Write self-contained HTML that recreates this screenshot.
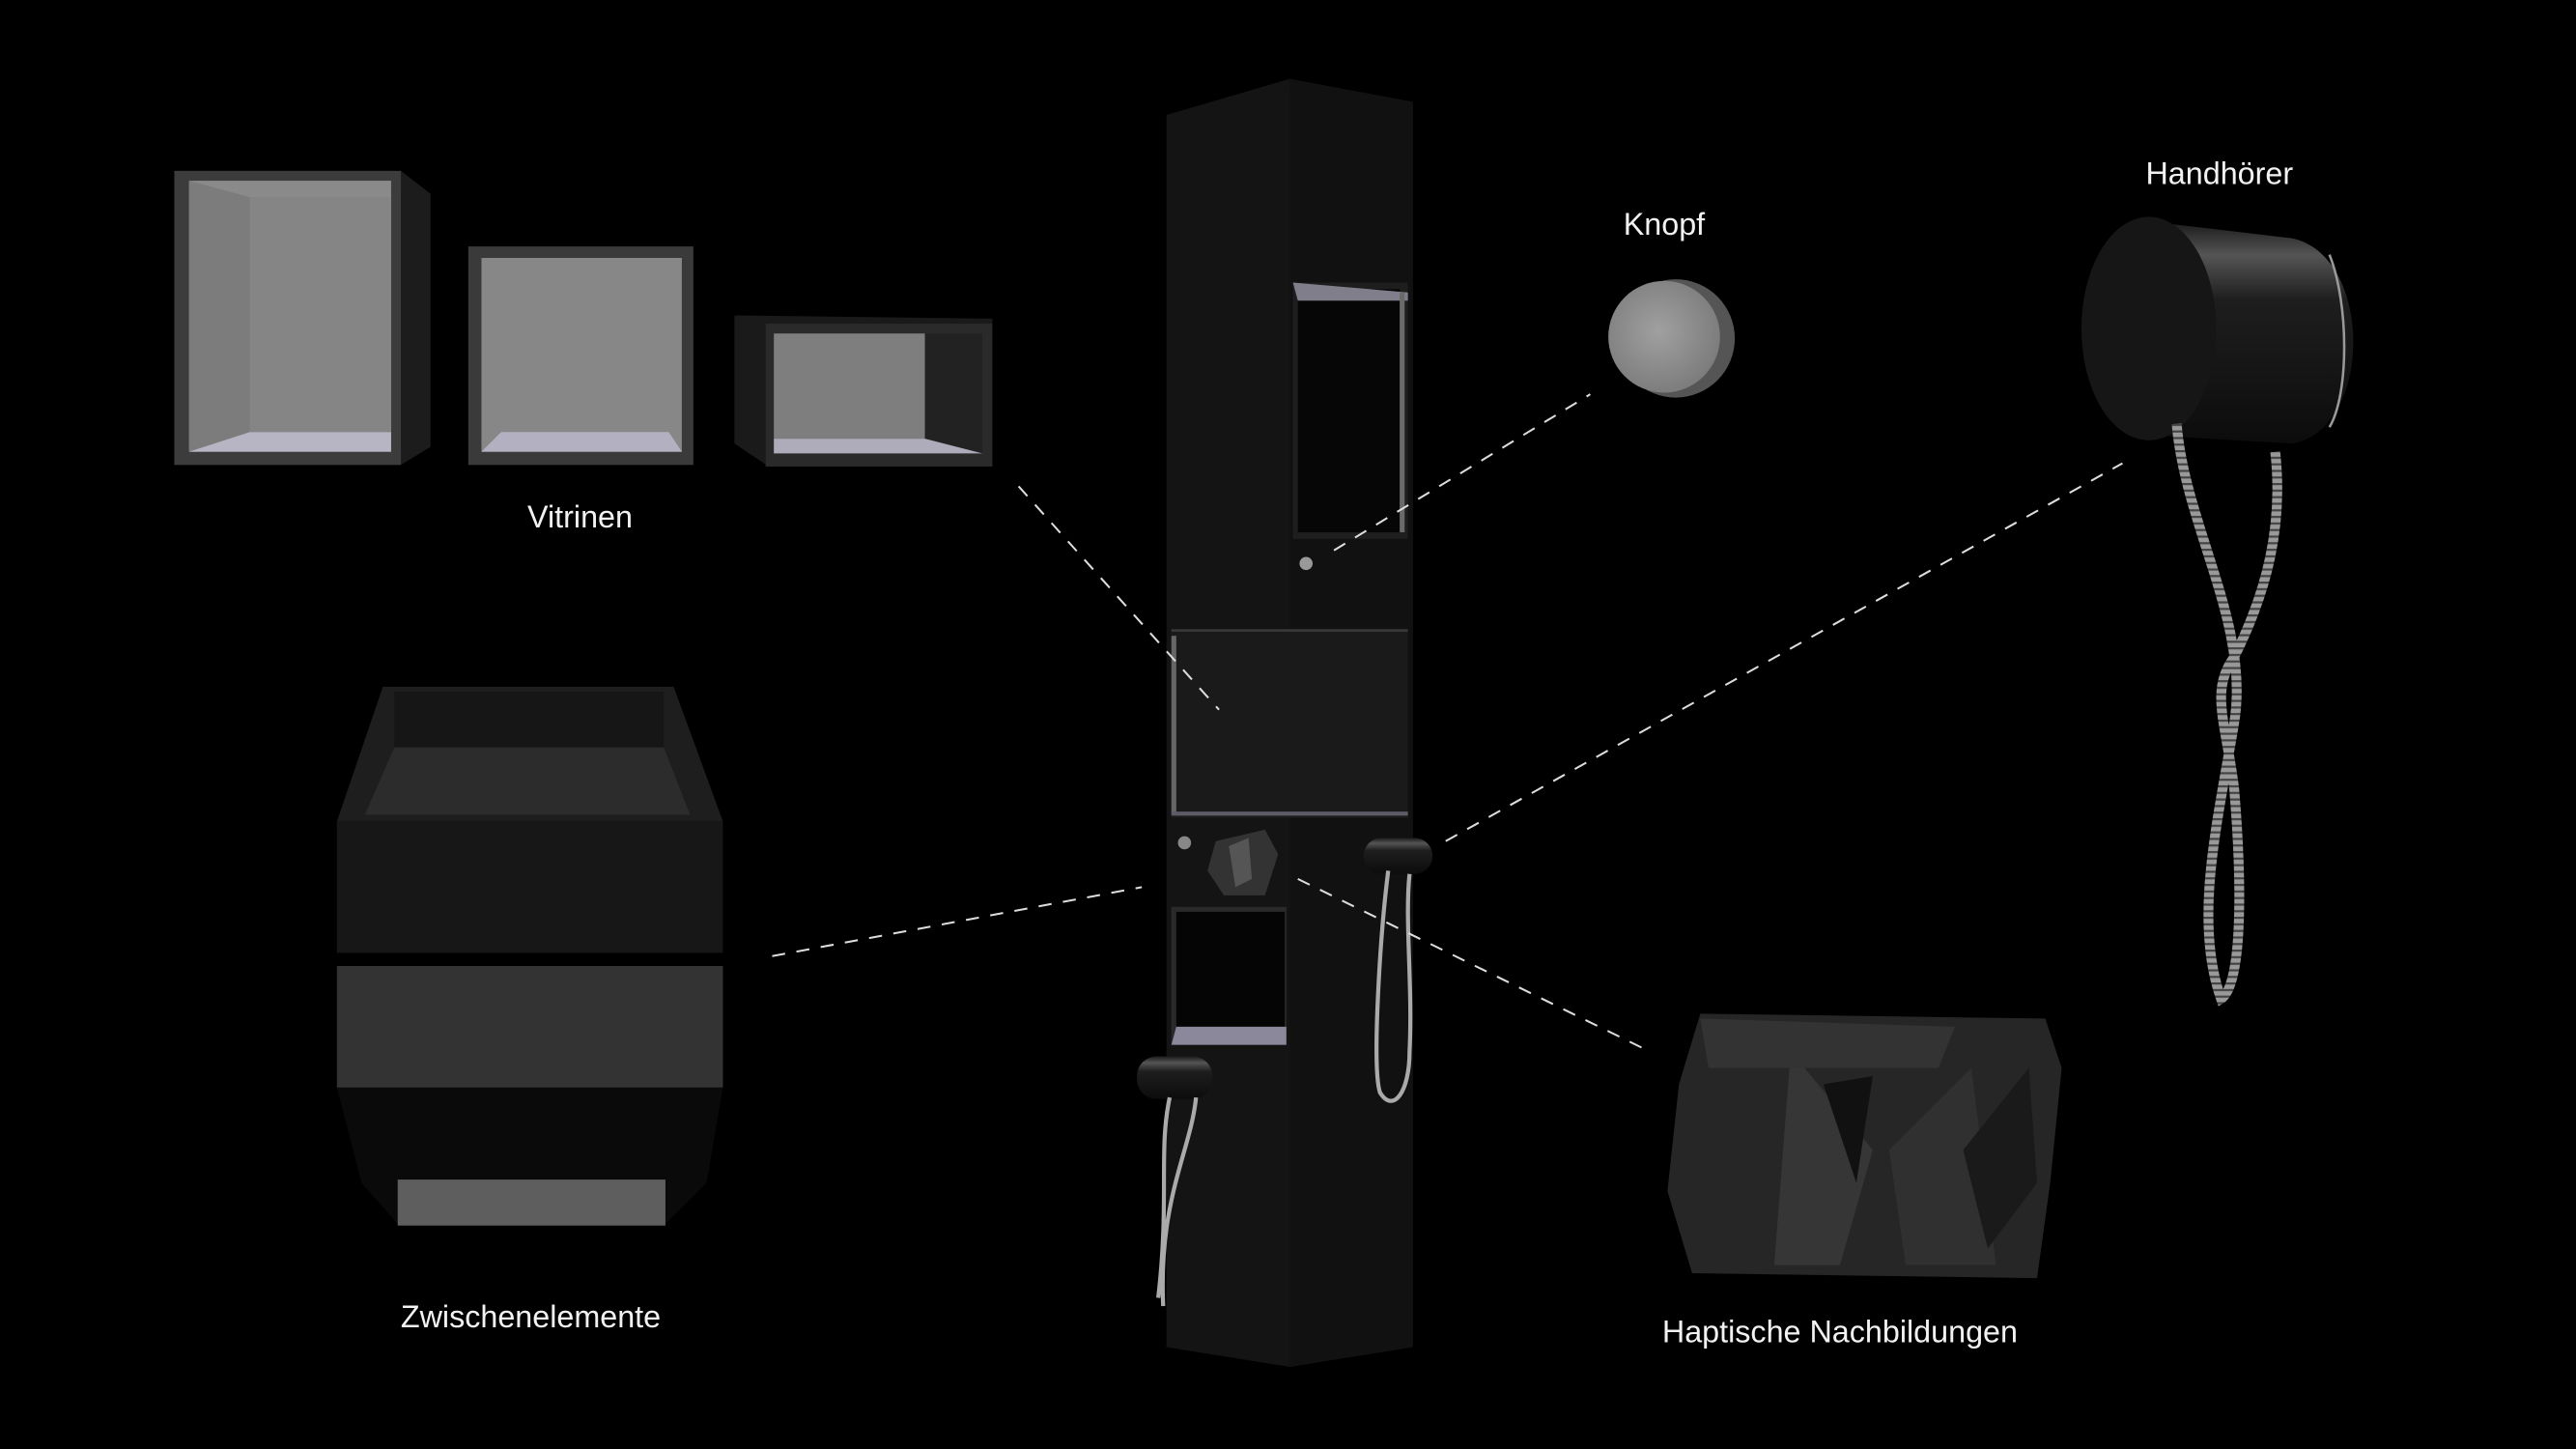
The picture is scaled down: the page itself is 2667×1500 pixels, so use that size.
<!DOCTYPE html>
<html><head><meta charset="utf-8"><style>
html,body{margin:0;padding:0;background:#000;}
svg{display:block;}
text{font-family:"Liberation Sans",sans-serif;fill:#f2f2f2;font-size:19px;text-anchor:middle;}
</style></head><body>
<svg width="2667" height="1500" viewBox="0 0 1568 882" xmlns="http://www.w3.org/2000/svg">
<defs>
<linearGradient id="cyl" x1="0" y1="0" x2="0" y2="1">
<stop offset="0" stop-color="#1a1a1a"/><stop offset="0.15" stop-color="#555"/><stop offset="0.35" stop-color="#1e1e1e"/><stop offset="1" stop-color="#0c0c0c"/>
</linearGradient>
<radialGradient id="knob" cx="0.45" cy="0.45" r="0.6">
<stop offset="0" stop-color="#a0a0a0"/><stop offset="1" stop-color="#7a7a7a"/>
</radialGradient>
<pattern id="spr" width="4" height="4" patternUnits="userSpaceOnUse"><rect width="4" height="4" fill="#999"/><rect y="2" width="4" height="1.3" fill="#444"/></pattern>
</defs>
<rect width="1568" height="882" fill="#000"/>

<!-- Vitrine 1 -->
<polygon points="244,104 262,118 262,272 244,283" fill="#1c1c1c"/>
<rect x="106" y="104" width="138" height="179" fill="#3c3c3c"/>
<rect x="115" y="110" width="123" height="165" fill="#8a8a8a"/>
<polygon points="115,110 152,120 152,263 115,275" fill="#7c7c7c"/>
<polygon points="115,275 152,263 238,263 238,275" fill="#b7b4c4"/>
<rect x="152" y="120" width="86" height="143" fill="#858585"/>
<!-- Vitrine 2 -->
<rect x="285" y="150" width="137" height="133" fill="#3a3a3a"/>
<rect x="293" y="157" width="122" height="118" fill="#878787"/>
<polygon points="293,275 305,263 407,263 415,275" fill="#b3b1c1"/>
<!-- Vitrine 3 -->
<polygon points="447,192 604,194 604,284 468,284 447,270" fill="#1a1a1a"/>
<rect x="466" y="197" width="138" height="87" fill="#2a2a2a"/>
<rect x="471" y="203" width="92" height="64" fill="#7e7e7e"/>
<polygon points="563,203 598,203 598,276 563,267" fill="#222"/>
<polygon points="471,267 563,267 598,276 471,276" fill="#aeacbb"/>
<text x="353" y="321">Vitrinen</text>

<!-- Zwischenelemente -->
<polygon points="233,418 410,418 440,500 205,500" fill="#1e1e1e"/>
<polygon points="240,421 404,421 404,455 240,455" fill="#161616"/>
<polygon points="240,455 404,455 420,496 222,496" fill="#2c2c2c"/>
<rect x="205" y="500" width="235" height="80" fill="#171717"/>
<rect x="205" y="588" width="235" height="74" fill="#333"/>
<polygon points="205,662 440,662 430,720 405,745 242,745 220,720" fill="#0a0a0a"/>
<rect x="242" y="718" width="163" height="28" fill="#5e5e5e"/>
<text x="323" y="808">Zwischenelemente</text>

<!-- Column -->
<polygon points="710,70 785,48 860,62 860,820 785,832 710,820" fill="#141414"/>
<polygon points="785,48 860,62 860,820 785,832" fill="#111"/>
<!-- upper vitrine -->
<rect x="787" y="172" width="70" height="156" fill="#1e1e1e"/>
<rect x="790" y="176" width="62" height="148" fill="#060606"/>
<polygon points="787,172 857,178 857,183 790,183" fill="#807e8a"/>
<rect x="852" y="178" width="3" height="146" fill="#6a6a6a"/>
<circle cx="795" cy="343" r="4" fill="#999"/>
<!-- middle section -->
<rect x="713" y="383" width="144" height="115" fill="#1a1a1a"/>
<rect x="713" y="383" width="144" height="1.5" fill="#3a3a3a"/>
<rect x="713" y="387" width="3" height="108" fill="#666"/>
<rect x="713" y="494" width="144" height="2.5" fill="#5c5b66"/>
<!-- small button + relief -->
<circle cx="721" cy="513" r="4" fill="#888"/>
<polygon points="740,512 770,505 778,520 770,545 745,545 735,530" fill="#333"/>
<polygon points="748,515 760,510 762,535 752,540" fill="#555"/>
<!-- lower vitrine -->
<rect x="713" y="552" width="70" height="84" fill="#2a2a2a"/>
<rect x="716" y="555" width="66" height="70" fill="#050505"/>
<polygon points="716,625 783,625 783,636 713,636" fill="#8a889a"/>
<!-- handset right -->
<rect x="830" y="510" width="42" height="22" rx="11" fill="url(#cyl)"/>
<path d="M845,530 C840,570 835,650 840,665 C848,678 858,665 858,640 C860,600 855,560 858,532" fill="none" stroke="#aaa" stroke-width="2.5"/>
<!-- handset left -->
<rect x="692" y="643" width="46" height="26" rx="12" fill="url(#cyl)"/>
<path d="M712,668 C705,700 712,730 705,790 M728,668 C725,700 705,730 708,795" fill="none" stroke="#aaa" stroke-width="2.5"/>

<!-- Knopf -->
<text x="1013" y="143">Knopf</text>
<circle cx="1020" cy="206" r="36" fill="#555"/>
<circle cx="1013" cy="205" r="34" fill="url(#knob)"/>

<!-- Handhörer -->
<text x="1351" y="112">Handhörer</text>
<path d="M1310,135 L1395,145 C1445,155 1445,262 1395,270 L1310,265 Z" fill="url(#cyl)"/>
<path d="M1418,155 C1430,185 1430,240 1418,260" fill="none" stroke="#999" stroke-width="1.5"/>
<ellipse cx="1308" cy="200" rx="41" ry="68" fill="#161616"/>
<path d="M1325,258 C1330,320 1370,380 1360,440 C1350,500 1335,560 1352,608 C1365,600 1365,540 1360,480 C1355,440 1345,420 1360,400 C1380,360 1390,320 1385,275" fill="none" stroke="url(#spr)" stroke-width="6"/>

<!-- Haptische -->
<polygon points="1035,617 1245,620 1255,650 1248,720 1240,778 1030,775 1015,725 1022,660" fill="#262626"/>
<polygon points="1090,640 1140,700 1120,770 1080,770" fill="#363636"/>
<polygon points="1150,700 1200,650 1215,770 1160,770" fill="#303030"/>
<polygon points="1035,620 1190,625 1180,650 1040,650" fill="#333"/>
<polygon points="1110,660 1140,655 1130,720" fill="#111"/>
<polygon points="1195,700 1235,650 1240,720 1210,760" fill="#1a1a1a"/>
<text x="1120" y="817">Haptische Nachbildungen</text>

<!-- dashed connectors -->
<g stroke="#ddd" stroke-width="1.2" stroke-dasharray="8,7" fill="none">
<line x1="620" y1="296" x2="742" y2="432"/>
<line x1="812" y1="335" x2="968" y2="240"/>
<line x1="880" y1="512" x2="1292" y2="282"/>
<line x1="470" y1="582" x2="695" y2="540"/>
<line x1="790" y1="535" x2="1000" y2="638"/>
</g>
</svg>
</body></html>
